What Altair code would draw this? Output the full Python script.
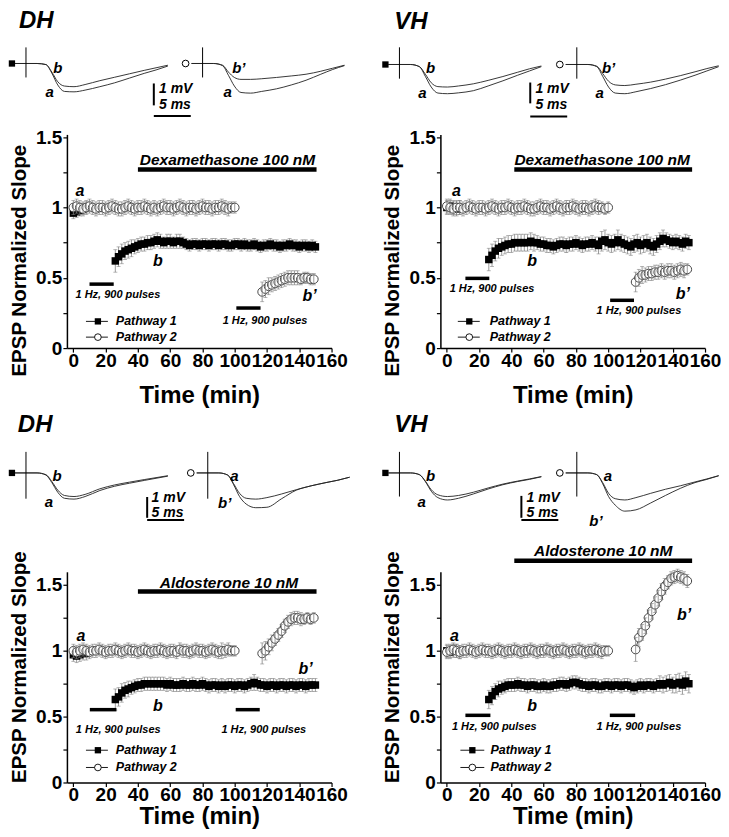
import altair as alt
import pandas as pd

FONT = "Liberation Sans"
GRAY = "#808080"

# ---------------- time points (min) ----------------
T_P1_PRE = [0, 2, 4, 6, 8]
T_P1_POST = list(range(26, 151, 2))      # 63 points
T_P2_PRE = list(range(0, 101, 2))        # 51 points
T_P2_POST = list(range(117, 150, 2))     # 17 points

# ---------------- DH / Dexamethasone ----------------
TL_P1_PRE = [0.96, 0.97, 0.98, 0.99, 1.00]
TL_P1_PRE_SEM = [0.04, 0.04, 0.04, 0.04, 0.04]
TL_P1_POST = [0.62, 0.65, 0.67, 0.69, 0.70, 0.71, 0.72, 0.73, 0.74, 0.74,
              0.75, 0.75, 0.76, 0.77, 0.76, 0.75, 0.76, 0.76, 0.75, 0.76,
              0.76, 0.75, 0.74, 0.73, 0.74, 0.74, 0.73, 0.74, 0.74, 0.73,
              0.74, 0.74, 0.73, 0.74, 0.74, 0.73, 0.73, 0.74, 0.74, 0.73,
              0.74, 0.73, 0.73, 0.74, 0.73, 0.72, 0.73, 0.73, 0.74, 0.73,
              0.73, 0.72, 0.73, 0.73, 0.74, 0.73, 0.73, 0.72, 0.73, 0.73,
              0.72, 0.73, 0.72]
TL_P1_POST_SEM = [0.08, 0.07, 0.07, 0.06, 0.06, 0.06, 0.05, 0.05, 0.05, 0.05,
                  0.05, 0.05, 0.05, 0.05, 0.05, 0.04, 0.05, 0.05, 0.04, 0.05,
                  0.05, 0.04, 0.04, 0.04, 0.04, 0.04, 0.04, 0.04, 0.04, 0.04,
                  0.04, 0.04, 0.04, 0.04, 0.04, 0.04, 0.04, 0.04, 0.04, 0.04,
                  0.04, 0.04, 0.04, 0.04, 0.04, 0.04, 0.04, 0.04, 0.04, 0.04,
                  0.04, 0.04, 0.04, 0.04, 0.04, 0.04, 0.04, 0.04, 0.04, 0.04,
                  0.04, 0.04, 0.04]
TL_P2_PRE = [1.00, 1.01, 1.00, 0.99, 1.00, 1.01, 1.00, 0.99, 1.00, 1.00,
             0.99, 1.00, 1.01, 1.00, 0.99, 0.99, 1.00, 1.01, 1.00, 0.99,
             1.00, 1.00, 1.01, 1.00, 0.99, 1.00, 0.99, 1.00, 1.01, 1.00,
             1.00, 0.99, 1.00, 1.01, 1.00, 0.99, 1.00, 1.00, 0.99, 1.00,
             1.01, 1.00, 1.00, 0.99, 1.00, 1.00, 1.01, 1.00, 0.99, 1.00,
             1.00]
TL_P2_PRE_SEM = [0.05, 0.05, 0.05, 0.05, 0.05, 0.05, 0.05, 0.05, 0.05, 0.05,
                 0.05, 0.05, 0.05, 0.05, 0.05, 0.05, 0.05, 0.05, 0.05, 0.05,
                 0.05, 0.05, 0.05, 0.05, 0.05, 0.05, 0.05, 0.05, 0.05, 0.05,
                 0.05, 0.05, 0.05, 0.05, 0.05, 0.05, 0.05, 0.05, 0.05, 0.05,
                 0.05, 0.05, 0.05, 0.05, 0.05, 0.05, 0.05, 0.05, 0.05, 0.04,
                 0.04]
TL_P2_POST = [0.40, 0.42, 0.44, 0.45, 0.46, 0.47, 0.48, 0.49, 0.50, 0.50,
              0.50, 0.50, 0.49, 0.50, 0.50, 0.49, 0.49]
TL_P2_POST_SEM = [0.07, 0.06, 0.06, 0.05, 0.05, 0.05, 0.05, 0.05, 0.05, 0.05,
                  0.05, 0.05, 0.04, 0.04, 0.04, 0.04, 0.04]

# ---------------- VH / Dexamethasone ----------------
TR_P1_PRE = [1.00, 1.01, 1.00, 0.99, 1.00]
TR_P1_PRE_SEM = [0.05, 0.05, 0.05, 0.05, 0.05]
TR_P1_POST = [0.63, 0.66, 0.69, 0.71, 0.72, 0.73, 0.74, 0.74, 0.75, 0.75,
              0.75, 0.75, 0.75, 0.76, 0.75, 0.75, 0.74, 0.74, 0.73, 0.73,
              0.72, 0.73, 0.74, 0.74, 0.73, 0.74, 0.74, 0.75, 0.74, 0.73,
              0.74, 0.74, 0.75, 0.74, 0.73, 0.76, 0.77, 0.75, 0.74, 0.75,
              0.77, 0.75, 0.74, 0.73, 0.72, 0.74, 0.75, 0.73, 0.74, 0.75,
              0.73, 0.72, 0.74, 0.76, 0.78, 0.77, 0.76, 0.75, 0.76, 0.75,
              0.74, 0.76, 0.75]
TR_P1_POST_SEM = [0.08, 0.08, 0.07, 0.07, 0.06, 0.06, 0.06, 0.06, 0.06, 0.06,
                  0.06, 0.06, 0.06, 0.06, 0.06, 0.05, 0.05, 0.05, 0.05, 0.05,
                  0.05, 0.05, 0.05, 0.05, 0.05, 0.05, 0.05, 0.05, 0.05, 0.05,
                  0.05, 0.05, 0.05, 0.05, 0.06, 0.07, 0.07, 0.06, 0.06, 0.06,
                  0.07, 0.06, 0.06, 0.06, 0.06, 0.06, 0.06, 0.06, 0.06, 0.06,
                  0.06, 0.06, 0.06, 0.06, 0.06, 0.05, 0.05, 0.05, 0.05, 0.05,
                  0.05, 0.05, 0.05]
TR_P2_PRE = [1.01, 1.00, 0.99, 1.00, 1.00, 0.99, 1.00, 1.01, 1.00, 0.99,
             1.00, 1.00, 0.99, 1.00, 1.01, 1.00, 0.99, 1.00, 1.00, 1.01,
             1.00, 0.99, 1.00, 1.00, 1.01, 1.00, 0.99, 0.99, 1.00, 1.01,
             1.00, 1.00, 0.99, 1.00, 1.01, 1.00, 0.99, 1.00, 1.00, 1.01,
             1.00, 0.99, 1.00, 1.00, 0.99, 1.00, 1.01, 1.00, 1.00, 0.99,
             1.00]
TR_P2_PRE_SEM = [0.05, 0.05, 0.05, 0.05, 0.05, 0.05, 0.05, 0.05, 0.05, 0.05,
                 0.05, 0.05, 0.05, 0.05, 0.05, 0.05, 0.05, 0.05, 0.05, 0.05,
                 0.05, 0.05, 0.05, 0.05, 0.05, 0.05, 0.05, 0.05, 0.05, 0.05,
                 0.05, 0.05, 0.05, 0.05, 0.05, 0.05, 0.05, 0.05, 0.05, 0.05,
                 0.05, 0.05, 0.05, 0.05, 0.05, 0.05, 0.05, 0.05, 0.04, 0.04,
                 0.04]
TR_P2_POST = [0.47, 0.50, 0.52, 0.52, 0.53, 0.53, 0.54, 0.54, 0.55, 0.54,
              0.55, 0.55, 0.54, 0.55, 0.56, 0.55, 0.56]
TR_P2_POST_SEM = [0.07, 0.06, 0.06, 0.05, 0.05, 0.05, 0.05, 0.05, 0.05, 0.05,
                  0.05, 0.05, 0.05, 0.05, 0.05, 0.05, 0.04]

# ---------------- DH / Aldosterone ----------------
BL_P1_PRE = [0.97, 0.96, 0.97, 0.98, 0.98]
BL_P1_PRE_SEM = [0.05, 0.05, 0.05, 0.05, 0.05]
BL_P1_POST = [0.63, 0.65, 0.68, 0.70, 0.71, 0.72, 0.73, 0.74, 0.74, 0.75,
              0.75, 0.75, 0.75, 0.75, 0.75, 0.75, 0.74, 0.75, 0.74, 0.74,
              0.74, 0.75, 0.74, 0.74, 0.75, 0.74, 0.74, 0.75, 0.74, 0.73,
              0.74, 0.74, 0.73, 0.74, 0.73, 0.74, 0.74, 0.73, 0.74, 0.74,
              0.73, 0.74, 0.75, 0.76, 0.75, 0.74, 0.74, 0.73, 0.74, 0.74,
              0.73, 0.74, 0.74, 0.73, 0.74, 0.74, 0.73, 0.74, 0.74, 0.73,
              0.74, 0.74, 0.74]
BL_P1_POST_SEM = [0.08, 0.07, 0.07, 0.06, 0.06, 0.05, 0.05, 0.05, 0.05, 0.05,
                  0.05, 0.05, 0.05, 0.05, 0.05, 0.05, 0.05, 0.05, 0.05, 0.05,
                  0.05, 0.05, 0.05, 0.05, 0.05, 0.05, 0.05, 0.05, 0.05, 0.05,
                  0.05, 0.05, 0.05, 0.05, 0.05, 0.05, 0.05, 0.05, 0.05, 0.05,
                  0.05, 0.05, 0.05, 0.06, 0.05, 0.05, 0.05, 0.05, 0.05, 0.05,
                  0.05, 0.05, 0.05, 0.05, 0.05, 0.05, 0.05, 0.05, 0.05, 0.05,
                  0.05, 0.05, 0.05]
BL_P2_PRE = [1.00, 0.99, 1.00, 1.01, 1.00, 0.99, 1.00, 1.00, 1.01, 1.00,
             0.99, 1.00, 1.00, 1.01, 1.00, 0.99, 1.00, 1.01, 1.00, 1.00,
             0.99, 1.00, 1.01, 1.00, 0.99, 1.00, 1.00, 1.01, 1.00, 0.99,
             1.00, 1.00, 0.99, 1.01, 1.00, 1.00, 0.99, 1.00, 1.01, 1.00,
             1.00, 0.99, 1.00, 1.01, 1.00, 0.99, 1.00, 1.00, 1.01, 1.00,
             1.00]
BL_P2_PRE_SEM = [0.05, 0.05, 0.05, 0.05, 0.05, 0.05, 0.05, 0.05, 0.05, 0.05,
                 0.05, 0.05, 0.05, 0.05, 0.05, 0.05, 0.05, 0.05, 0.05, 0.05,
                 0.05, 0.05, 0.05, 0.05, 0.05, 0.05, 0.05, 0.05, 0.05, 0.05,
                 0.05, 0.05, 0.05, 0.05, 0.05, 0.05, 0.05, 0.05, 0.05, 0.05,
                 0.05, 0.05, 0.05, 0.05, 0.05, 0.05, 0.06, 0.05, 0.05, 0.04,
                 0.04]
BL_P2_POST = [0.98, 1.00, 1.03, 1.06, 1.09, 1.12, 1.15, 1.19, 1.22, 1.24,
              1.25, 1.25, 1.24, 1.24, 1.25, 1.24, 1.25]
BL_P2_POST_SEM = [0.08, 0.07, 0.06, 0.06, 0.05, 0.05, 0.05, 0.05, 0.05, 0.05,
                  0.05, 0.05, 0.05, 0.04, 0.04, 0.04, 0.04]

# ---------------- VH / Aldosterone ----------------
BR_P1_PRE = [1.00, 0.99, 1.00, 1.00, 0.99]
BR_P1_PRE_SEM = [0.05, 0.05, 0.05, 0.05, 0.05]
BR_P1_POST = [0.63, 0.66, 0.69, 0.71, 0.72, 0.73, 0.74, 0.74, 0.74, 0.75,
              0.74, 0.74, 0.73, 0.74, 0.74, 0.73, 0.73, 0.74, 0.73, 0.73,
              0.74, 0.74, 0.75, 0.75, 0.74, 0.75, 0.76, 0.76, 0.75, 0.74,
              0.74, 0.73, 0.74, 0.74, 0.73, 0.73, 0.74, 0.74, 0.73, 0.74,
              0.74, 0.73, 0.74, 0.74, 0.73, 0.72, 0.73, 0.74, 0.73, 0.74,
              0.74, 0.73, 0.74, 0.75, 0.74, 0.75, 0.76, 0.74, 0.75, 0.76,
              0.74, 0.77, 0.75]
BR_P1_POST_SEM = [0.07, 0.07, 0.06, 0.06, 0.05, 0.05, 0.05, 0.05, 0.05, 0.05,
                  0.05, 0.05, 0.05, 0.05, 0.05, 0.05, 0.05, 0.05, 0.05, 0.05,
                  0.05, 0.05, 0.05, 0.05, 0.05, 0.05, 0.05, 0.05, 0.05, 0.05,
                  0.05, 0.05, 0.05, 0.05, 0.05, 0.05, 0.05, 0.05, 0.05, 0.05,
                  0.05, 0.05, 0.05, 0.05, 0.05, 0.05, 0.05, 0.05, 0.05, 0.05,
                  0.05, 0.05, 0.05, 0.06, 0.06, 0.06, 0.06, 0.06, 0.07, 0.07,
                  0.07, 0.07, 0.07]
BR_P2_PRE = [0.99, 1.00, 1.01, 1.00, 0.99, 1.00, 1.00, 1.01, 1.00, 0.99,
             1.00, 1.01, 1.00, 1.00, 0.99, 1.00, 1.01, 1.00, 0.99, 1.00,
             1.00, 1.01, 1.00, 0.99, 1.00, 1.00, 1.01, 1.00, 0.99, 1.00,
             1.00, 1.01, 1.00, 0.99, 1.00, 1.00, 1.01, 1.00, 0.99, 1.00,
             1.00, 1.01, 1.00, 0.99, 1.00, 1.00, 1.01, 1.00, 0.99, 1.00,
             1.00]
BR_P2_PRE_SEM = [0.05, 0.05, 0.05, 0.05, 0.05, 0.05, 0.05, 0.05, 0.05, 0.05,
                 0.05, 0.05, 0.05, 0.05, 0.05, 0.05, 0.05, 0.05, 0.05, 0.05,
                 0.05, 0.05, 0.05, 0.05, 0.05, 0.05, 0.05, 0.05, 0.05, 0.05,
                 0.05, 0.05, 0.05, 0.05, 0.05, 0.05, 0.05, 0.05, 0.05, 0.05,
                 0.05, 0.05, 0.05, 0.05, 0.05, 0.05, 0.05, 0.05, 0.05, 0.04,
                 0.04]
BR_P2_POST = [1.01, 1.10, 1.14, 1.19, 1.25, 1.30, 1.35, 1.40, 1.45, 1.49,
              1.52, 1.55, 1.56, 1.57, 1.56, 1.55, 1.53]
BR_P2_POST_SEM = [0.09, 0.07, 0.06, 0.06, 0.06, 0.06, 0.06, 0.06, 0.06, 0.06,
                  0.05, 0.05, 0.05, 0.05, 0.05, 0.05, 0.05]

# ---------------- EPSP traces (ms after stimulus, mV) ----------------
TRACE_T = [-1.5, 0, 1.5, 2.7, 3.5, 4.3, 5.2, 6.5, 8, 10, 12, 14, 16, 17.6, 19.2]
TL_L_A = [0, 0, 0, -0.05, -0.45, -1.0, -1.3, -1.32, -1.24, -1.08, -0.9, -0.68, -0.46, -0.3, -0.12]
TL_L_B = [0, 0, 0, -0.05, -0.4, -0.85, -1.05, -1.08, -0.98, -0.8, -0.64, -0.48, -0.32, -0.2, -0.08]
TL_R_A = [0, 0, 0, -0.1, -0.55, -1.05, -1.35, -1.38, -1.3, -1.18, -1.0, -0.78, -0.5, -0.28, -0.1]
TL_R_B = [0, 0, 0, -0.08, -0.4, -0.65, -0.74, -0.74, -0.71, -0.65, -0.58, -0.5, -0.36, -0.22, -0.08]
TR_L_A = [0, 0, 0, -0.1, -0.55, -1.05, -1.33, -1.36, -1.32, -1.22, -1.0, -0.76, -0.5, -0.3, -0.1]
TR_L_B = [0, 0, 0, -0.1, -0.45, -0.85, -1.03, -1.05, -1.0, -0.9, -0.74, -0.56, -0.36, -0.2, -0.07]
TR_R_A = [0, 0, 0, -0.1, -0.55, -1.05, -1.33, -1.36, -1.27, -1.12, -0.94, -0.73, -0.5, -0.3, -0.1]
TR_R_B = [0, 0, 0, -0.08, -0.42, -0.78, -0.95, -0.98, -0.92, -0.82, -0.68, -0.52, -0.34, -0.19, -0.06]
BL_L_A = [0, 0, 0, -0.1, -0.45, -0.9, -1.18, -1.22, -1.1, -0.82, -0.62, -0.48, -0.35, -0.25, -0.15]
BL_L_B = [0, 0, 0, -0.08, -0.4, -0.8, -1.05, -1.1, -1.0, -0.74, -0.56, -0.43, -0.31, -0.22, -0.13]
BL_R_A = [0, 0, 0, -0.1, -0.5, -0.95, -1.18, -1.22, -1.15, -0.98, -0.78, -0.6, -0.45, -0.34, -0.2]
BL_R_B = [0, 0, 0, -0.1, -0.55, -1.1, -1.45, -1.62, -1.6, -1.2, -0.8, -0.6, -0.45, -0.34, -0.2]
BR_L_A = [0, 0, 0, -0.08, -0.4, -0.85, -1.15, -1.26, -1.18, -0.98, -0.75, -0.55, -0.4, -0.3, -0.18]
BR_L_B = [0, 0, 0, -0.08, -0.38, -0.78, -1.02, -1.1, -1.05, -0.9, -0.7, -0.52, -0.38, -0.28, -0.17]
BR_R_A = [0, 0, 0, -0.08, -0.45, -0.95, -1.2, -1.26, -1.15, -0.95, -0.76, -0.6, -0.42, -0.28, -0.13]
BR_R_B = [0, 0, 0, -0.08, -0.5, -1.1, -1.5, -1.78, -1.72, -1.4, -1.05, -0.72, -0.45, -0.3, -0.13]

LFS_LABEL = "1 Hz, 900 pulses"
LEGEND_LABELS = ["Pathway 1", "Pathway 2"]

QUADS = [
    dict(region="DH", drug="Dexamethasone 100 nM", ymax=1.52, height=214, title_y=126, xtitle_y=35,
         p1=(TL_P1_PRE, TL_P1_PRE_SEM, TL_P1_POST, TL_P1_POST_SEM),
         p2=(TL_P2_PRE, TL_P2_PRE_SEM, TL_P2_POST, TL_P2_POST_SEM),
         letters=[("a", 4.0, 1.12), ("b", 52.3, 0.62), ("b\u2019", 146.4, 0.37)],
         lfs=[(10, 25, 0.455), (101, 116, 0.285)], lfs_text=[(27.6, 0.377), (118.8, 0.19)],
         drug_bar=(40, 150.7, 1.27), drug_text=(95.5, 1.34),
         legend=dict(l1=7.8, l2=21.4, m=15.2, tx=26.3, rows=[0.19, 0.078]),
         base=-71, art=(0.75, -0.65), offsets=[0, 23.9],
         curves=[[TL_L_A, TL_L_B], [TL_R_A, TL_R_B]],
         tlabels=[("b", 4.3, -0.19, 0), ("a", 3.2, -1.35, 0), ("b\u2019", 4.9, -0.19, 1), ("a", 3.4, -1.35, 1)],
         sbar=dict(t=17.3, v1=-0.93, v2=-1.95, vh=-2.44, tx=18.0, vmv=-1.2, vms=-1.92),
         title_pos=(-0.95, 2.0)),
    dict(region="VH", drug="Dexamethasone 100 nM", ymax=1.52, height=214, title_y=126, xtitle_y=35,
         p1=(TR_P1_PRE, TR_P1_PRE_SEM, TR_P1_POST, TR_P1_POST_SEM),
         p2=(TR_P2_PRE, TR_P2_PRE_SEM, TR_P2_POST, TR_P2_POST_SEM),
         letters=[("a", 5.9, 1.12), ("b", 52.9, 0.62), ("b\u2019", 146.3, 0.385)],
         lfs=[(11.5, 26.3, 0.496), (101.2, 116, 0.34)], lfs_text=[(28, 0.42), (119, 0.265)],
         drug_bar=(41.8, 152, 1.27), drug_text=(96.2, 1.34),
         legend=dict(l1=6.8, l2=20.4, m=13.9, tx=26.6, rows=[0.19, 0.078]),
         base=-70, art=(0.8, -0.66), offsets=[0, 24.0],
         curves=[[TR_L_A, TR_L_B], [TR_R_A, TR_R_B]],
         tlabels=[("b", 4.2, -0.16, 0), ("a", 3.1, -1.33, 0), ("b\u2019", 4.3, -0.16, 1), ("a", 3.1, -1.33, 1)],
         sbar=dict(t=17.7, v1=-0.84, v2=-1.81, vh=-2.42, tx=18.4, vmv=-1.16, vms=-1.88),
         title_pos=(-0.7, 2.0)),
    dict(region="DH", drug="Aldosterone 10 nM", ymax=1.6, height=211, title_y=95, xtitle_y=22.5,
         p1=(BL_P1_PRE, BL_P1_PRE_SEM, BL_P1_POST, BL_P1_POST_SEM),
         p2=(BL_P2_PRE, BL_P2_PRE_SEM, BL_P2_POST, BL_P2_POST_SEM),
         letters=[("a", 4.7, 1.11), ("b", 52.3, 0.58), ("b\u2019", 143.9, 0.86)],
         lfs=[(10.2, 26.7, 0.553), (100.6, 115.5, 0.553)], lfs_text=[(27.8, 0.40), (118, 0.40)],
         drug_bar=(40, 150.7, 1.45), drug_text=(96.4, 1.515),
         legend=dict(l1=7.8, l2=21.4, m=15.2, tx=26.3, rows=[0.245, 0.114]),
         base=-99, art=(0.98, -1.2), offsets=[0, 24.6],
         curves=[[BL_L_A, BL_L_B], [BL_R_A, BL_R_B]],
         tlabels=[("b", 4.2, -0.14, 0), ("a", 3.1, -1.35, 0), ("a", 3.6, -0.14, 1), ("b\u2019", 2.3, -1.4, 1)],
         sbar=dict(t=16.4, v1=-1.12, v2=-2.09, vh=-2.19, tx=17.0, vmv=-1.17, vms=-1.89),
         title_pos=(-1.1, 2.23)),
    dict(region="VH", drug="Aldosterone 10 nM", ymax=1.6, height=211, title_y=95, xtitle_y=22.5,
         p1=(BR_P1_PRE, BR_P1_PRE_SEM, BR_P1_POST, BR_P1_POST_SEM),
         p2=(BR_P2_PRE, BR_P2_PRE_SEM, BR_P2_POST, BR_P2_POST_SEM),
         letters=[("a", 4.7, 1.11), ("b", 52.9, 0.58), ("b\u2019", 147, 1.27)],
         lfs=[(11.5, 27, 0.51), (101, 116.7, 0.51)], lfs_text=[(29.4, 0.42), (119, 0.42)],
         drug_bar=(41.8, 152, 1.684), drug_text=(96.9, 1.76),
         legend=dict(l1=8.4, l2=23.2, m=15.8, tx=27, rows=[0.245, 0.114]),
         base=-99, art=(0.98, -1.1), offsets=[0, 24.0],
         curves=[[BR_L_A, BR_L_B], [BR_R_A, BR_R_B]],
         tlabels=[("b", 4.2, -0.14, 0), ("a", 3.0, -1.35, 0), ("a", 4.2, -0.14, 1), ("b\u2019", 2.6, -2.25, 1)],
         sbar=dict(t=16.5, v1=-1.07, v2=-2.09, vh=-2.19, tx=17.2, vmv=-1.17, vms=-1.89),
         title_pos=(-0.7, 2.23)),
]


def series(times, vals, sems, seg):
    assert len(times) == len(vals) == len(sems), (len(times), len(vals), len(sems))
    return pd.DataFrame({"t": times, "y": vals,
                         "lo": [v - s for v, s in zip(vals, sems)],
                         "hi": [v + s for v, s in zip(vals, sems)],
                         "seg": seg})


def txt(size, align="center"):
    return dict(font=FONT, fontSize=size, fontStyle="italic", fontWeight="bold",
                color="black", align=align, baseline="middle")


def plot_layer(q):
    XS = alt.Scale(domain=[-4, 160], nice=False, zero=False)
    YS = alt.Scale(domain=[0, q["ymax"]], nice=False, zero=False)
    xax = alt.Axis(values=list(range(0, 161, 20)), title="Time (min)", grid=False,
                   labelFont=FONT, labelFontSize=19, labelFontWeight="bold", labelColor="black",
                   labelOverlap=False, labelFlush=False, labelPadding=-1,
                   tickSize=4, tickWidth=1.2, tickColor="black",
                   domainColor="black", domainWidth=1.5,
                   titleFont=FONT, titleFontSize=24, titleFontWeight="bold", titleColor="black",
                   titleY=q["xtitle_y"], titleBaseline="top")
    yax = alt.Axis(values=[0, 0.25, 0.5, 0.75, 1, 1.25, 1.5], grid=False,
                   labelExpr="(datum.value * 2) % 1 == 0 ? toString(datum.value) : ''",
                   title="EPSP Normalized Slope",
                   labelFont=FONT, labelFontSize=19, labelFontWeight="bold", labelColor="black",
                   labelPadding=1, tickSize=4, tickWidth=1.2, tickColor="black",
                   domainColor="black", domainWidth=1.5,
                   titleFont=FONT, titleFontSize=20.5, titleFontWeight="bold", titleColor="black",
                   titleAngle=270, titleBaseline="bottom", titleX=-37.5, titleY=q["title_y"])

    def X(f):
        return alt.X(f + ":Q", scale=XS, axis=xax)

    def Y(f):
        return alt.Y(f + ":Q", scale=YS, axis=yax)

    pre1, pre1s, post1, post1s = q["p1"]
    pre2, pre2s, post2, post2s = q["p2"]
    d1 = pd.concat([series(T_P1_PRE, pre1, pre1s, "pre"), series(T_P1_POST, post1, post1s, "post")])
    d2 = pd.concat([series(T_P2_PRE, pre2, pre2s, "pre"), series(T_P2_POST, post2, post2s, "post")])

    def errbars(base):
        return [
            base.mark_rule(color=GRAY, strokeWidth=0.8).encode(x=X("t"), y=Y("lo"), y2="hi:Q"),
            base.mark_tick(color=GRAY, thickness=0.8, size=4, orient="horizontal").encode(x=X("t"), y=Y("lo")),
            base.mark_tick(color=GRAY, thickness=0.8, size=4, orient="horizontal").encode(x=X("t"), y=Y("hi")),
        ]

    layers = []
    b1 = alt.Chart(d1)
    layers += errbars(b1)
    layers.append(b1.mark_line(color="black", strokeWidth=0.8).encode(x=X("t"), y=Y("y"), detail="seg:N"))
    layers.append(b1.mark_point(shape="square", filled=True, color="black", size=56, opacity=1)
                  .encode(x=X("t"), y=Y("y")))
    b2 = alt.Chart(d2)
    layers.append(b2.mark_line(color="#333333", strokeWidth=0.8).encode(x=X("t"), y=Y("y"), detail="seg:N"))
    layers.append(b2.mark_point(shape="circle", filled=True, fill="white", stroke="#333333",
                                strokeWidth=0.9, size=76, opacity=1)
                  .encode(x=X("t"), y=Y("y")))
    layers += errbars(b2)

    # stimulation bars and drug bar
    lfs = pd.DataFrame({"t": [a for a, b, y in q["lfs"]], "t2": [b for a, b, y in q["lfs"]],
                        "y": [y for a, b, y in q["lfs"]]})
    layers.append(alt.Chart(lfs).mark_rule(color="black", strokeWidth=3.5).encode(x=X("t"), x2="t2:Q", y=Y("y")))
    db = q["drug_bar"]
    drug = pd.DataFrame({"t": [db[0]], "t2": [db[1]], "y": [db[2]]})
    layers.append(alt.Chart(drug).mark_rule(color="black", strokeWidth=4.5).encode(x=X("t"), x2="t2:Q", y=Y("y")))

    lt = pd.DataFrame({"t": [p[0] for p in q["lfs_text"]], "y": [p[1] for p in q["lfs_text"]],
                       "label": [LFS_LABEL, LFS_LABEL]})
    layers.append(alt.Chart(lt).mark_text(**txt(11)).encode(x=X("t"), y=Y("y"), text="label:N"))
    dt = pd.DataFrame({"t": [q["drug_text"][0]], "y": [q["drug_text"][1]], "label": [q["drug"]]})
    layers.append(alt.Chart(dt).mark_text(**txt(15.5)).encode(x=X("t"), y=Y("y"), text="label:N"))
    let = pd.DataFrame({"t": [p[1] for p in q["letters"]], "y": [p[2] for p in q["letters"]],
                        "label": [p[0] for p in q["letters"]]})
    layers.append(alt.Chart(let).mark_text(**txt(16)).encode(x=X("t"), y=Y("y"), text="label:N"))

    # legend
    lg = q["legend"]
    leg = pd.DataFrame({"t": [lg["l1"]] * 2, "t2": [lg["l2"]] * 2, "tm": [lg["m"]] * 2,
                        "tt": [lg["tx"]] * 2, "y": lg["rows"], "label": LEGEND_LABELS})
    lb = alt.Chart(leg)
    layers.append(lb.mark_rule(color="black", strokeWidth=0.9).encode(x=X("t"), x2="t2:Q", y=Y("y")))
    layers.append(lb.transform_filter(alt.datum.label == LEGEND_LABELS[0])
                  .mark_point(shape="square", filled=True, color="black", size=40, opacity=1)
                  .encode(x=X("tm"), y=Y("y")))
    layers.append(lb.transform_filter(alt.datum.label == LEGEND_LABELS[1])
                  .mark_point(shape="circle", filled=True, fill="white", stroke="black", strokeWidth=0.9,
                              size=45, opacity=1)
                  .encode(x=X("tm"), y=Y("y")))
    layers.append(lb.mark_text(**txt(12.5, "left")).encode(x=X("tt"), y=Y("y"), text="label:N"))
    return alt.layer(*layers)


def traces_layer(q):
    y0 = q["base"]
    TX = alt.X("ms:Q", scale=alt.Scale(domain=[0, 10], range=[-41, 33], nice=False, zero=False), axis=None)
    TY = alt.Y("mv:Q", scale=alt.Scale(domain=[0, 1], range=[y0, y0 - 21.5], nice=False, zero=False), axis=None)
    rows = []
    for p, (off, curves) in enumerate(zip(q["offsets"], q["curves"])):
        for c, vals in enumerate(curves):
            assert len(vals) == len(TRACE_T)
            for t, v in zip(TRACE_T, vals):
                rows.append({"ms": t + off, "mv": v, "id": f"{p}-{c}"})
    tr = pd.DataFrame(rows)
    layers = [alt.Chart(tr).mark_line(color="#222222", strokeWidth=0.9, interpolate="monotone")
              .encode(x=TX, y=TY, detail="id:N")]
    art = pd.DataFrame({"ms": q["offsets"], "mv": [q["art"][0]] * 2, "mv2": [q["art"][1]] * 2})
    layers.append(alt.Chart(art).mark_rule(color="black", strokeWidth=1).encode(x=TX, y=TY, y2="mv2:Q"))
    sb = q["sbar"]
    sv = pd.DataFrame({"ms": [sb["t"]], "mv": [sb["v1"]], "mv2": [sb["v2"]]})
    layers.append(alt.Chart(sv).mark_rule(color="black", strokeWidth=2).encode(x=TX, y=TY, y2="mv2:Q"))
    sh = pd.DataFrame({"ms": [sb["t"]], "ms2": [sb["t"] + 5], "mv": [sb["vh"]]})
    layers.append(alt.Chart(sh).mark_rule(color="black", strokeWidth=2).encode(x=TX, x2="ms2:Q", y=TY))
    st = pd.DataFrame({"ms": [sb["tx"], sb["tx"]], "mv": [sb["vmv"], sb["vms"]], "label": ["1 mV", "5 ms"]})
    layers.append(alt.Chart(st).mark_text(**txt(14, "left")).encode(x=TX, y=TY, text="label:N"))
    m1 = pd.DataFrame({"ms": [q["offsets"][0] - 1.9], "mv": [0]})
    m2 = pd.DataFrame({"ms": [q["offsets"][1] - 2.3], "mv": [0]})
    layers.append(alt.Chart(m1).mark_point(shape="square", filled=True, color="black", size=40, opacity=1)
                  .encode(x=TX, y=TY))
    layers.append(alt.Chart(m2).mark_point(shape="circle", filled=True, fill="white", stroke="black",
                                           strokeWidth=1, size=45, opacity=1).encode(x=TX, y=TY))
    tl = pd.DataFrame({"ms": [l[1] + q["offsets"][l[3]] for l in q["tlabels"]],
                       "mv": [l[2] for l in q["tlabels"]], "label": [l[0] for l in q["tlabels"]]})
    layers.append(alt.Chart(tl).mark_text(**txt(15)).encode(x=TX, y=TY, text="label:N"))
    ttl = pd.DataFrame({"ms": [q["title_pos"][0]], "mv": [q["title_pos"][1]], "label": [q["region"]]})
    layers.append(alt.Chart(ttl).mark_text(**txt(24, "left")).encode(x=TX, y=TY, text="label:N"))
    return alt.layer(*layers)


panels = []
for q in QUADS:
    panels.append(alt.layer(traces_layer(q), plot_layer(q))
                  .resolve_scale(x="independent", y="independent")
                  .properties(width=265, height=q["height"]))

chart = (alt.concat(*panels, columns=2, spacing={"row": 224, "column": 109}, bounds="flush")
         .properties(padding=0)
         .configure_view(strokeWidth=0))

chart.save("out.html", embed_options={"renderer": "svg", "actions": False})
